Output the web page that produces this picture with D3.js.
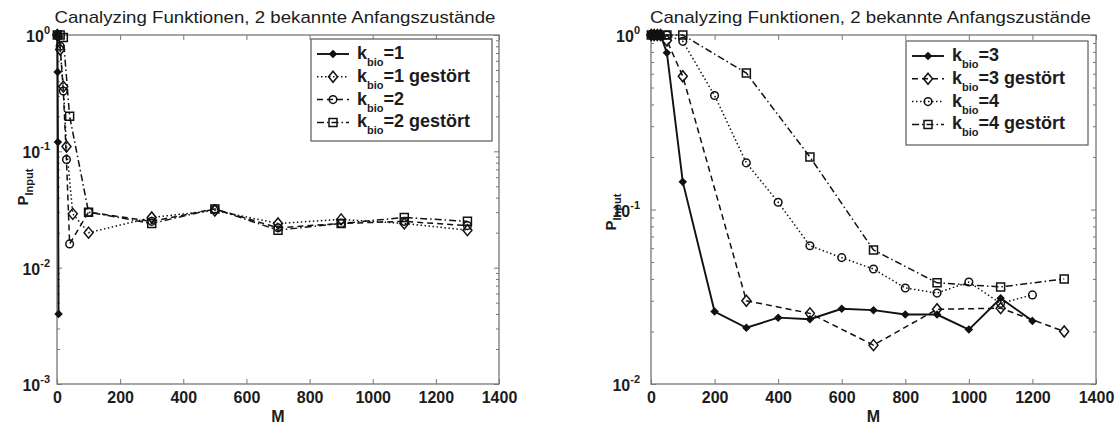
<!DOCTYPE html>
<html lang="de">
<head>
<meta charset="UTF-8">
<script src="https://d3js.org/d3.v7.min.js"></script>
<style>
  body { margin: 0; background: #fff; }
  svg text { font-family: "Liberation Sans", Arial, sans-serif; fill: #1c1c1c; }
</style>
<title>Canalyzing Funktionen</title>
</head>
<body>
<div id="chart"></div>
<script>
// ---- data ----
const titleText = "Canalyzing Funktionen, 2 bekannte Anfangszustände";
const mTicks = [0, 200, 400, 600, 800, 1000, 1200, 1400];

// left panel: k_bio = 1 / 2
const leftK1M  = [1, 2, 3, 5];
const leftK1P  = [1, 0.48, 0.12, 0.004];
const leftK1gM = [1, 10, 20, 30, 50, 100, 300, 500, 700, 900, 1100, 1300];
const leftK1gP = [1, 0.75, 0.36, 0.11, 0.029, 0.020, 0.027, 0.031, 0.024, 0.026, 0.024, 0.021];
const leftK2M  = [1, 10, 20, 30, 40, 100, 300, 500, 700, 900, 1100, 1300];
const leftK2P  = [1, 0.8, 0.33, 0.085, 0.016, 0.030, 0.025, 0.032, 0.022, 0.024, 0.025, 0.023];
const leftK2gM = [1, 10, 20, 40, 100, 300, 500, 700, 900, 1100, 1300];
const leftK2gP = [1, 1, 0.95, 0.2, 0.030, 0.024, 0.032, 0.021, 0.024, 0.027, 0.025];

// right panel: k_bio = 3 / 4
const rightK3M  = [1, 10, 20, 30, 50, 100, 200, 300, 400, 500, 600, 700, 800, 900, 1000, 1100, 1200];
const rightK3P  = [1, 1, 1, 1, 0.79, 0.144, 0.026, 0.021, 0.024, 0.0235, 0.027, 0.0265, 0.025, 0.025, 0.0205, 0.031, 0.023];
const rightK3gM = [1, 10, 20, 30, 50, 100, 300, 500, 700, 900, 1100, 1300];
const rightK3gP = [1, 1, 1, 1, 0.93, 0.58, 0.030, 0.0254, 0.0167, 0.0268, 0.0272, 0.020];
const rightK4M  = [1, 10, 20, 50, 100, 200, 300, 400, 500, 600, 700, 800, 900, 1000, 1100, 1200];
const rightK4P  = [1, 1, 1, 1, 0.92, 0.45, 0.185, 0.11, 0.062, 0.053, 0.0456, 0.0355, 0.0332, 0.0384, 0.029, 0.0324];
const rightK4gM = [1, 10, 20, 50, 100, 300, 500, 700, 900, 1100, 1300];
const rightK4gP = [1, 1, 1, 1, 1, 0.605, 0.20, 0.0586, 0.038, 0.036, 0.040];

const DASH = { solid: null, dotted: "1.5,2.5", dashed: "6,4", dashdot: "7,3,1.5,3" };

const svg = d3.select("#chart").append("svg")
    .attr("width", 1119)
    .attr("height", 426);

function markerPath(type) {
    if (type === "dot") return "M0,-3.2L3.2,0L0,3.2L-3.2,0Z";
    if (type === "diamond") return "M0,-5.5L4.5,0L0,5.5L-4.5,0Z";
    if (type === "square") return "M-4,-4H4V4H-4Z";
    return d3.symbol(d3.symbolCircle, 46)();
}

function drawMarker(g, type, x, y) {
    g.append("path")
        .attr("transform", "translate(" + x + "," + y + ")")
        .attr("d", markerPath(type))
        .attr("fill", type === "dot" ? "#111" : "none")
        .attr("stroke", "#111")
        .attr("stroke-width", 1.5);
}

function drawPanel(cfg) {
    const x = d3.scaleLinear().domain([0, 1400]).range([cfg.left, cfg.right]);
    const y = d3.scaleLog().domain([cfg.yMin, 1]).range([cfg.bottom, cfg.top]);
    const g = svg.append("g");

    const decades = d3.range(Math.round(Math.log10(cfg.yMin)), 1).map(e => Math.pow(10, e));
    const minors = [];
    decades.slice(0, -1).forEach(d => { for (let k = 2; k <= 9; k++) minors.push(d * k); });

    // ticks (inside, MATLAB style)
    const tickStyle = sel => {
        sel.select(".domain").remove();
        sel.selectAll("line").attr("stroke", "#777");
    };
    g.append("g").attr("transform", "translate(0," + cfg.bottom + ")")
        .call(d3.axisBottom(x).tickValues(mTicks).tickSize(-5).tickPadding(8).tickFormat(d3.format("d")))
        .call(tickStyle)
        .selectAll("text")
        .style("font-size", "16px").style("font-weight", "bold").attr("fill", "#1c1c1c");
    g.append("g").attr("transform", "translate(0," + cfg.top + ")")
        .call(d3.axisTop(x).tickValues(mTicks).tickSize(-5).tickFormat(""))
        .call(tickStyle);
    [[d3.axisLeft, cfg.left], [d3.axisRight, cfg.right]].forEach(([ax, pos]) => {
        g.append("g").attr("transform", "translate(" + pos + ",0)")
            .call(ax(y).tickValues(decades).tickSize(-5).tickFormat(""))
            .call(tickStyle);
        g.append("g").attr("transform", "translate(" + pos + ",0)")
            .call(ax(y).tickValues(minors).tickSize(-3).tickFormat(""))
            .call(tickStyle);
    });

    // frame
    g.append("rect")
        .attr("x", cfg.left).attr("y", cfg.top)
        .attr("width", cfg.right - cfg.left).attr("height", cfg.bottom - cfg.top)
        .attr("fill", "none").attr("stroke", "#777").attr("stroke-width", 1.3);

    // y tick labels 10^e
    decades.forEach(d => {
        const e = Math.round(Math.log10(d));
        const t = g.append("text")
            .attr("x", cfg.left - cfg.labelGap).attr("y", y(d) + 7)
            .attr("text-anchor", "end")
            .style("font-size", "16px").style("font-weight", "bold");
        t.append("tspan").text("10");
        t.append("tspan").attr("dy", -8).style("font-size", "11px")
            .text(e === 0 ? "0" : "-" + Math.abs(e));
    });

    // series
    const line = d3.line().x(d => x(d[0])).y(d => y(d[1]));
    cfg.series.forEach(s => {
        const pts = s.m.map((m, i) => [m, s.p[i]]);
        g.append("path")
            .attr("d", line(pts))
            .attr("fill", "none")
            .attr("stroke", "#111")
            .attr("stroke-width", s.dash === "solid" ? 1.9 : 1.5)
            .attr("stroke-dasharray", DASH[s.dash]);
        pts.forEach(p => drawMarker(g, s.marker, x(p[0]), y(p[1])));
    });

    // title and axis labels
    g.append("text")
        .attr("x", (cfg.left + cfg.right) / 2 - 3).attr("y", 23)
        .attr("text-anchor", "middle")
        .attr("textLength", 441).attr("lengthAdjust", "spacingAndGlyphs")
        .style("font-size", "17px")
        .text(titleText);
    g.append("text")
        .attr("x", (cfg.left + cfg.right) / 2).attr("y", 422)
        .attr("text-anchor", "middle")
        .style("font-size", "16px").style("font-weight", "bold")
        .text("M");
    const yl = g.append("text")
        .attr("transform", "translate(" + cfg.yLabelX + "," + cfg.yLabelY + ") rotate(-90)")
        .attr("text-anchor", "middle")
        .style("font-weight", "bold");
    yl.append("tspan").style("font-size", "15px").text("P");
    yl.append("tspan").attr("dy", 5).style("font-size", "11px").text("Input");

    // legend
    const L = cfg.legend;
    const lg = g.append("g");
    lg.append("rect")
        .attr("x", L.x).attr("y", L.y).attr("width", L.w).attr("height", L.h)
        .attr("fill", "#fff").attr("stroke", "#666").attr("stroke-width", 1.3);
    cfg.series.forEach((s, i) => {
        const cy = L.y + 15 + i * 22.8;
        lg.append("line")
            .attr("x1", L.x + 6).attr("x2", L.x + 38)
            .attr("y1", cy).attr("y2", cy)
            .attr("stroke", "#111")
            .attr("stroke-width", s.dash === "solid" ? 1.9 : 1.5)
            .attr("stroke-dasharray", DASH[s.dash]);
        drawMarker(lg, s.marker, L.x + 22, cy);
        const t = lg.append("text")
            .attr("x", L.x + 46).attr("y", cy + 5)
            .style("font-size", "18px").style("font-weight", "bold");
        t.append("tspan").text("k");
        t.append("tspan").attr("dy", 7).style("font-size", "11px").text("bio");
        t.append("tspan").attr("dy", -7).text(s.label);
    });
}

drawPanel({
    left: 57, right: 499, top: 35, bottom: 384, yMin: 1e-3, labelGap: 7,
    yLabelX: 28, yLabelY: 187,
    legend: { x: 311, y: 39, w: 181, h: 102 },
    series: [
        { m: leftK1M,  p: leftK1P,  dash: "solid",   marker: "dot",     label: "=1" },
        { m: leftK1gM, p: leftK1gP, dash: "dotted",  marker: "diamond", label: "=1 gestört" },
        { m: leftK2M,  p: leftK2P,  dash: "dashed",  marker: "circle",  label: "=2" },
        { m: leftK2gM, p: leftK2gP, dash: "dashdot", marker: "square",  label: "=2 gestört" }
    ]
});

drawPanel({
    left: 651, right: 1096, top: 35, bottom: 384, yMin: 1e-2, labelGap: 11,
    yLabelX: 616, yLabelY: 212,
    legend: { x: 906, y: 41, w: 182, h: 104 },
    series: [
        { m: rightK3M,  p: rightK3P,  dash: "solid",   marker: "dot",     label: "=3" },
        { m: rightK3gM, p: rightK3gP, dash: "dashed",  marker: "diamond", label: "=3 gestört" },
        { m: rightK4M,  p: rightK4P,  dash: "dotted",  marker: "circle",  label: "=4" },
        { m: rightK4gM, p: rightK4gP, dash: "dashdot", marker: "square",  label: "=4 gestört" }
    ]
});
</script>
</body>
</html>
